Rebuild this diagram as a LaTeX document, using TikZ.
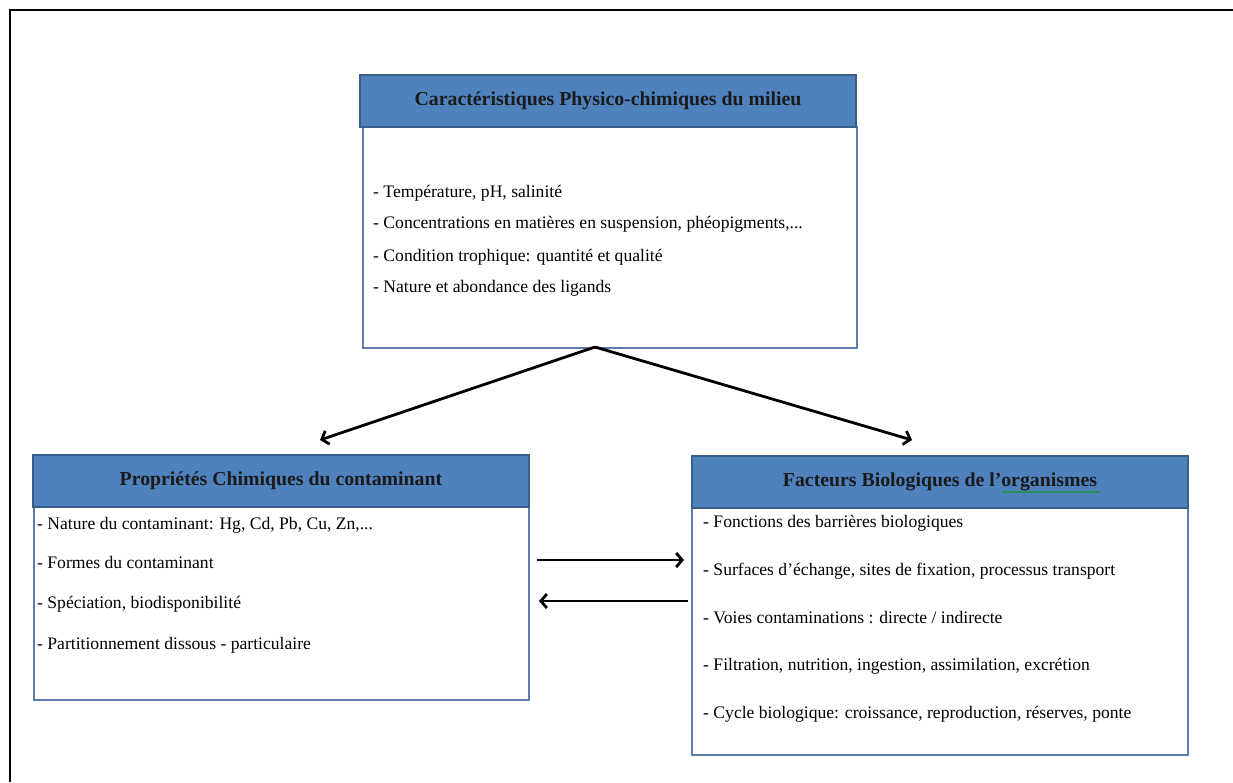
\documentclass[tikz,border=0pt]{standalone}
\usepackage{fontspec}
\setmainfont{Liberation Serif}
\usetikzlibrary{arrows.meta,decorations.pathmorphing}
\definecolor{hdrfill}{HTML}{4F81BD}
\definecolor{hdrdraw}{HTML}{385D8A}
\definecolor{bodydraw}{HTML}{5A7DAE}
\definecolor{titletext}{HTML}{1A1A1A}
\tikzset{
  hdr/.style={draw=hdrdraw, line width=2pt, fill=hdrfill, inner sep=0pt, minimum height=52pt,
    font=\fontsize{19.8}{22}\selectfont\bfseries, text=titletext},
  bodybox/.style={draw=bodydraw, line width=1.3pt, fill=white, inner sep=0pt},
  item/.style={anchor=west, inner sep=0pt, font=\fontsize{17.6}{20}\selectfont},
  conn/.style={line width=2.8pt, -{Straight Barb[length=6pt,width=14pt,line width=2.8pt]}},
  frameline/.style={line width=2.2pt, black}
}
\begin{document}
\begin{tikzpicture}[x=1pt,y=-1pt]
\useasboundingbox (0,0) rectangle (1233,782);
\draw[frameline] (10,782) -- (10,10) -- (1233,10);

% top box
\node[bodybox, minimum width=494pt, minimum height=221pt] (topbody) at (610,237.5) {};
\node[hdr, minimum width=496pt] (tophdr) at (608,101) {Caractéristiques Physico-chimiques du milieu};
\node[item] (t1) at (373,193) {- Température, pH, salinité};
\node[item] (t2) at (373,224) {- Concentrations en matières en suspension, phéopigments,...};
\node[item] (t3) at (373,257) {- Condition trophique: quantité et qualité};
\node[item] (t4) at (373,288) {- Nature et abondance des ligands};

% left box
\node[bodybox, minimum width=495pt, minimum height=193pt] (leftbody) at (281.5,603.5) {};
\node[hdr, minimum width=496pt] (lefthdr) at (281,481) {Propriétés Chimiques du contaminant};
\node[item] (l1) at (37,525) {- Nature du contaminant: Hg, Cd, Pb, Cu, Zn,...};
\node[item] (l2) at (37,562) {- Formes du contaminant};
\node[item] (l3) at (37,604) {- Spéciation, biodisponibilité};
\node[item] (l4) at (37,645) {- Partitionnement dissous - particulaire};

% right box
\node[bodybox, minimum width=496pt, minimum height=248pt] (rightbody) at (940,631) {};
\node[hdr, minimum width=496pt] (righthdr) at (940,481.5) {Facteurs Biologiques de l’organismes};
\node[item] (r1) at (703,523) {- Fonctions des barrières biologiques};
\node[item] (r2) at (703,571) {- Surfaces d’échange, sites de fixation, processus transport};
\node[item] (r3) at (703,618) {- Voies contaminations : directe / indirecte};
\node[item] (r4) at (703,666) {- Filtration, nutrition, ingestion, assimilation, excrétion};
\node[item] (r5) at (703,714) {- Cycle biologique: croissance, reproduction, réserves, ponte};

% spell-check underline
\draw[green!60!black, line width=0.6pt, decorate, decoration={snake, amplitude=0.8pt, segment length=3pt}]
  (1002,492) -- (1100,492);

% connectors
\coordinate (apex) at (595,347);
\coordinate (ltip) at (320,440);
\coordinate (rtip) at (912,440);
\coordinate (a1s) at (537,560);
\coordinate (a1e) at (684,560);
\coordinate (a2s) at (688,601);
\coordinate (a2e) at (539,601);
\draw[conn] (apex) -- (ltip);
\draw[conn] (apex) -- (rtip);
\draw[conn] (a1s) -- (a1e);
\draw[conn] (a2s) -- (a2e);
\end{tikzpicture}
\end{document}
